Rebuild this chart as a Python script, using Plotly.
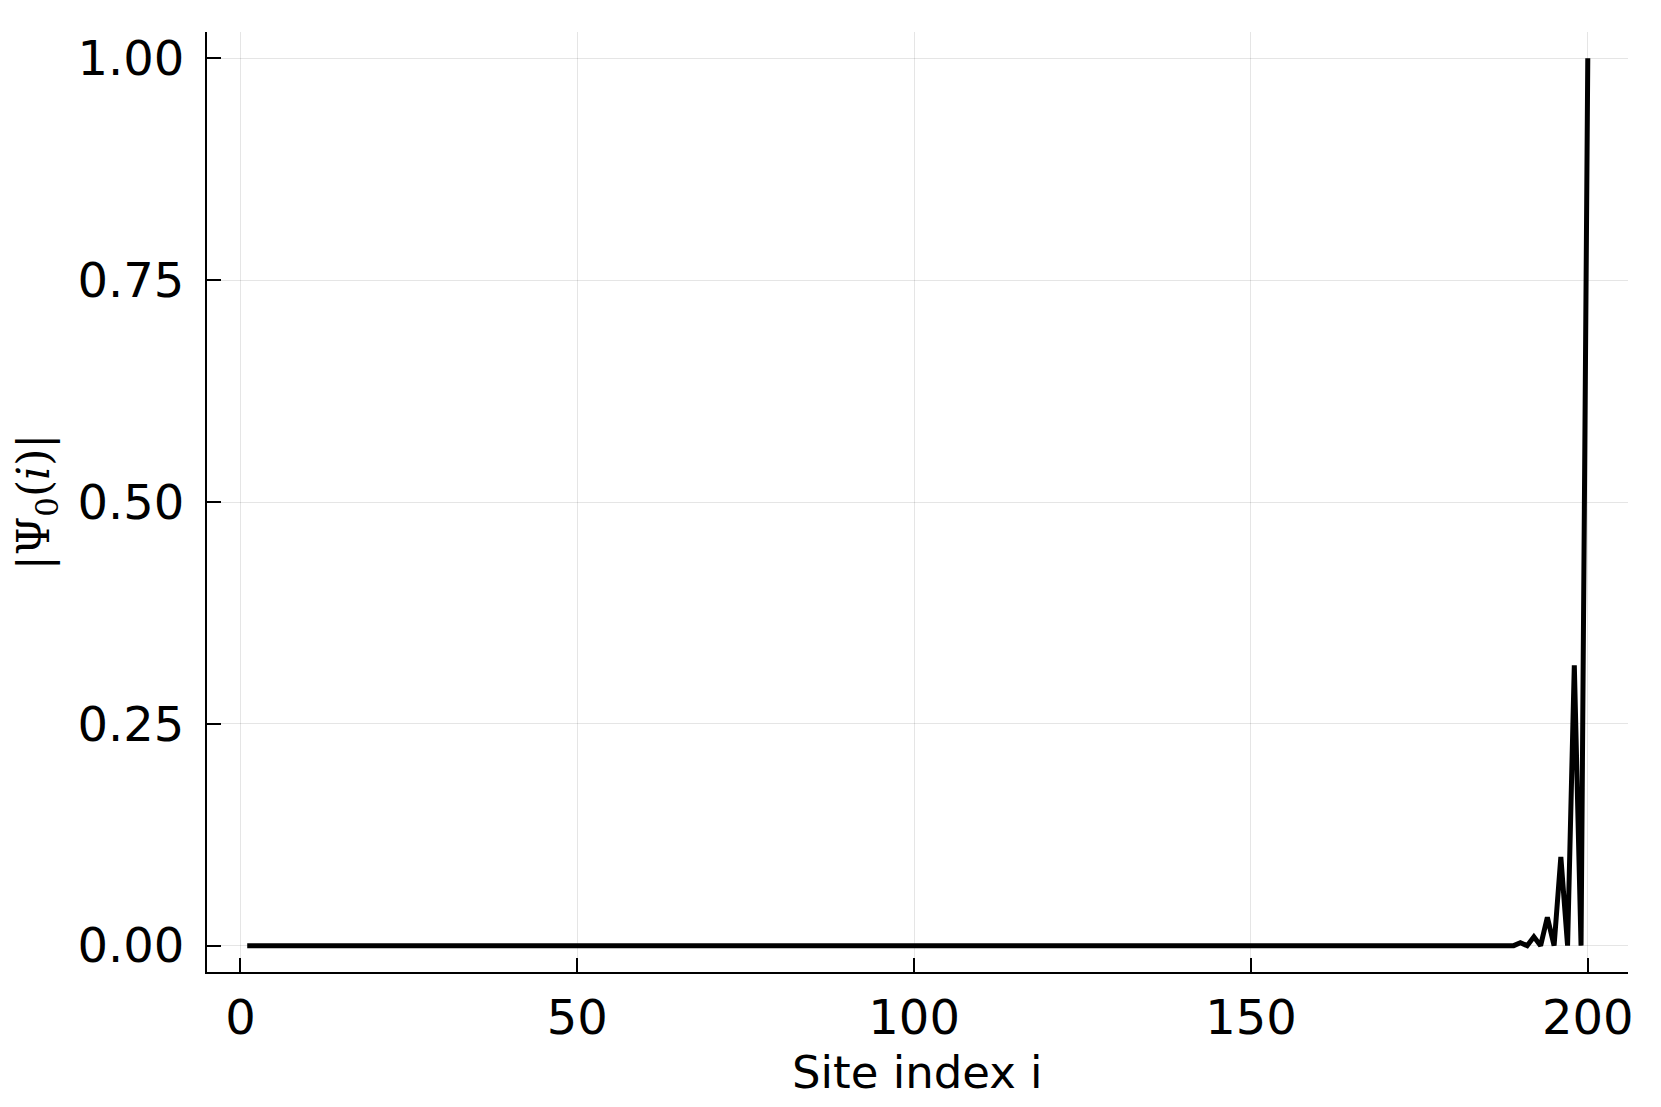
import plotly.graph_objects as go

# site indices and |Psi_0(i)|
sites = list(range(1, 201))
tail_sites = [184, 186, 188, 190, 192, 194, 196, 198, 200]
tail_values = [0.0001, 0.0003, 0.001, 0.0032, 0.01, 0.032, 0.1, 0.316, 1.0]
x_ticks = [0, 50, 100, 150, 200]
y_ticks = [0.0, 0.25, 0.5, 0.75, 1.0]
y_labels = ["0.00", "0.25", "0.50", "0.75", "1.00"]

# every other site is zero; only the right edge carries weight
amplitude = [0.0] * len(sites)
for s, v in zip(tail_sites, tail_values):
    amplitude[sites.index(s)] = v

fig = go.Figure(go.Scatter(
    x=sites, y=amplitude, mode="lines",
    line=dict(color="black", width=5),
    showlegend=False,
))

axis_common = dict(
    showline=True, linecolor="black", linewidth=2, mirror=False,
    ticks="inside", ticklen=14, tickwidth=2, tickcolor="black",
    showgrid=True, gridcolor="rgba(0,0,0,0.1)", gridwidth=1,
    zeroline=False,
    tickfont=dict(family="DejaVu Sans", size=48, color="black"),
)

# page body has an 8px margin, so the margins are shifted to compensate
fig.update_layout(
    width=1661, height=1107,
    paper_bgcolor="white", plot_bgcolor="white",
    margin=dict(l=199, r=41, t=24, b=143),
    xaxis=dict(range=[-4.97, 205.97], tickvals=x_ticks, ticklabelstandoff=2,
               **axis_common),
    yaxis=dict(range=[-0.0297, 1.0297], tickvals=y_ticks, ticktext=y_labels,
               ticklabelstandoff=11,
               title=dict(text="|Ψ<sub>0</sub>(<i>i</i>)|", standoff=22,
                          font=dict(family="DejaVu Serif", size=44,
                                    color="black")),
               **axis_common),
    annotations=[
        dict(text="Site index i", xref="paper", yref="paper",
             x=0.5, y=-0.1074, xanchor="center", yanchor="middle",
             showarrow=False,
             font=dict(family="DejaVu Sans", size=45, color="black")),
    ],
)

fig.write_html("out.html")
